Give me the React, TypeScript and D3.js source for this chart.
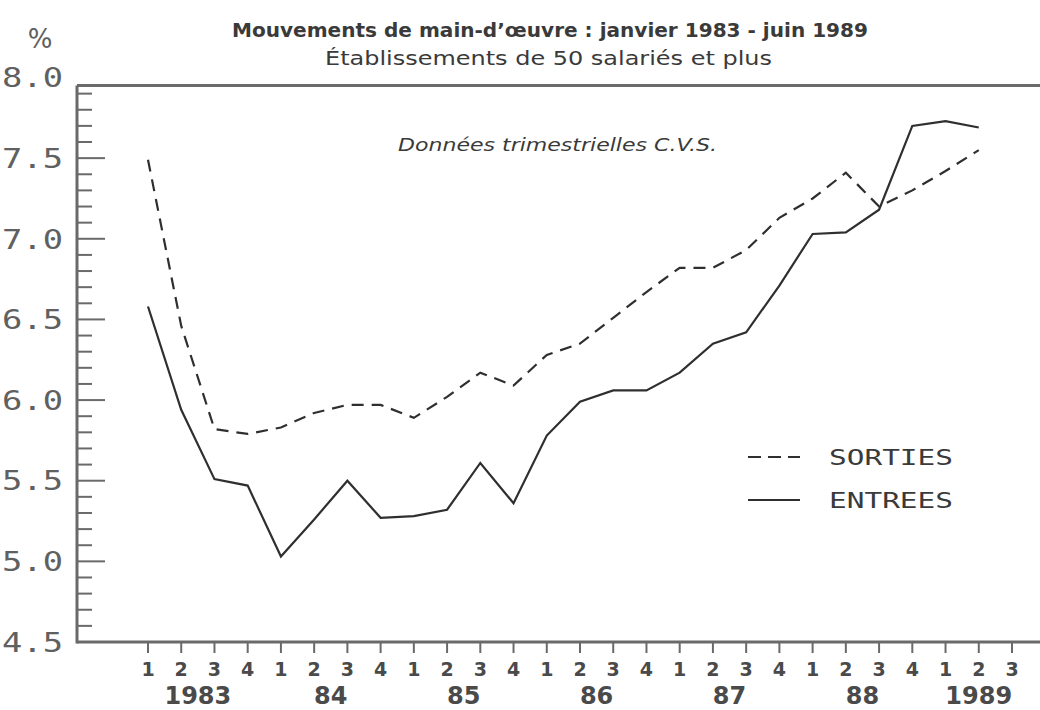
import * as d3 from 'd3'
import * as React from 'react'

// Quarter ticks along the bottom (1983 Q1 .. 1989 Q3)
const quarterLabels = [
  '1', '2', '3', '4',
  '1', '2', '3', '4',
  '1', '2', '3', '4',
  '1', '2', '3', '4',
  '1', '2', '3', '4',
  '1', '2', '3', '4',
  '1', '2', '3',
]
const yearLabels = ['1983', '84', '85', '86', '87', '88', '1989']

// Quarterly rates (%), 1983 Q1 .. 1989 Q2
const sorties = [
  7.49, 6.46, 5.82, 5.79,
  5.83, 5.92, 5.97, 5.97,
  5.89, 6.02, 6.17, 6.09,
  6.28, 6.35, 6.51, 6.67,
  6.82, 6.82, 6.93, 7.13,
  7.25, 7.41, 7.20, 7.30,
  7.42, 7.55,
]
const entrees = [
  6.58, 5.94, 5.51, 5.47,
  5.03, 5.26, 5.50, 5.27,
  5.28, 5.32, 5.61, 5.36,
  5.78, 5.99, 6.06, 6.06,
  6.17, 6.35, 6.42, 6.71,
  7.03, 7.04, 7.18, 7.70,
  7.73, 7.69,
]
const yTickLabels = ['4.5', '5.0', '5.5', '6.0', '6.5', '7.0', '7.5', '8.0']

const W = 1040
const H = 710
const axisColor = '#6a6a6a'
const inkColor = '#2f2f2f'
const labelColor = '#606060'
const matrixFont = '"DejaVu Sans Mono", monospace'
const sansFont = '"DejaVu Sans", Verdana, sans-serif'

export default function App() {
  const node = React.useRef<SVGSVGElement>(null)

  React.useEffect(() => {
    const svg = d3.select(node.current!)
    svg.selectAll('*').remove()

    const x = d3.scaleLinear().domain([0, quarterLabels.length - 1]).range([148, 1012])
    const y = d3.scaleLinear().domain([4.5, 8.0]).range([642, 77.5])
    const left = 77
    const top = y(8) + 8
    const bottom = y(4.5)

    svg.append('rect').attr('width', W).attr('height', H).attr('fill', '#fff')

    // Titles
    const addText = (tx: number, ty: number, str: string, size: number, len: number, extra: (s: any) => void) => {
      const t = svg.append('text')
        .attr('x', tx).attr('y', ty)
        .attr('font-family', sansFont).attr('font-size', size)
        .attr('fill', '#3a3a3a')
        .attr('textLength', len)
        .attr('lengthAdjust', 'spacingAndGlyphs')
        .text(str)
      extra(t)
    }
    addText(232, 37, 'Mouvements de main-d\u2019\u0153uvre : janvier 1983 - juin 1989', 19, 636,
      s => s.attr('font-weight', 'bold'))
    addText(325, 65, '\u00c9tablissements de 50 salari\u00e9s et plus', 19, 447, () => {})
    addText(398, 151, 'Donn\u00e9es trimestrielles C.V.S.', 18, 319, s => s.attr('font-style', 'italic'))

    svg.append('text')
      .attr('x', 40).attr('y', 48)
      .attr('text-anchor', 'middle')
      .attr('font-family', sansFont).attr('font-size', 26)
      .attr('fill', labelColor)
      .text('%')

    // Frame: top rule, left axis, bottom axis
    const frame = svg.append('g').attr('stroke', axisColor).attr('stroke-width', 3)
    frame.append('line').attr('x1', left).attr('x2', W).attr('y1', top).attr('y2', top)
    frame.append('line').attr('x1', left).attr('x2', left).attr('y1', top).attr('y2', bottom + 1.5)
    frame.append('line').attr('x1', left).attr('x2', W).attr('y1', bottom).attr('y2', bottom)

    // Y ticks: minor every 0.1, major every 0.5
    const yTicks = d3.range(45, 80).map(d => d / 10)
    svg.append('g')
      .selectAll('line')
      .data(yTicks)
      .enter()
      .append('line')
      .attr('x1', left)
      .attr('x2', (d: number) => Math.round(d * 10) % 5 === 0 ? left + 28 : left + 15)
      .attr('y1', (d: number) => y(d))
      .attr('y2', (d: number) => y(d))
      .attr('stroke', axisColor)
      .attr('stroke-width', 2)

    svg.append('g')
      .selectAll('text')
      .data(yTickLabels)
      .enter()
      .append('text')
      .attr('x', 2)
      .attr('y', (d: string) => y(+d))
      .attr('dy', '0.36em')
      .attr('font-family', matrixFont)
      .attr('font-size', 27)
      .attr('textLength', 61)
      .attr('lengthAdjust', 'spacingAndGlyphs')
      .attr('fill', labelColor)
      .text((d: string) => d)

    // X ticks & quarter labels
    const xg = svg.append('g')
    xg.selectAll('line')
      .data(quarterLabels)
      .enter()
      .append('line')
      .attr('x1', (_d: string, i: number) => x(i))
      .attr('x2', (_d: string, i: number) => x(i))
      .attr('y1', bottom)
      .attr('y2', bottom + 11)
      .attr('stroke', axisColor)
      .attr('stroke-width', 2)
    xg.selectAll('text.q')
      .data(quarterLabels)
      .enter()
      .append('text')
      .attr('class', 'q')
      .attr('x', (_d: string, i: number) => x(i))
      .attr('y', 676)
      .attr('text-anchor', 'middle')
      .attr('font-family', sansFont).attr('font-weight', 'bold').attr('font-size', 19)
      .attr('fill', '#4a4a4a')
      .text((d: string) => d)
    xg.selectAll('text.yr')
      .data(yearLabels)
      .enter()
      .append('text')
      .attr('class', 'yr')
      .attr('x', (_d: string, i: number) => {
        const first = i * 4
        const last = Math.min(first + 3, quarterLabels.length - 1)
        return x((first + last) / 2)
      })
      .attr('y', 704)
      .attr('text-anchor', 'middle')
      .attr('font-family', sansFont).attr('font-weight', 'bold').attr('font-size', 24)
      .attr('fill', '#4a4a4a')
      .text((d: string) => d)

    // Series
    const line = d3.line<number>()
      .x((_d, i) => x(i))
      .y(d => y(d))
      .curve(d3.curveLinear)

    svg.append('path')
      .datum(sorties)
      .attr('d', line)
      .attr('fill', 'none')
      .attr('stroke', inkColor)
      .attr('stroke-width', 2.2)
      .attr('stroke-dasharray', '12 8')

    svg.append('path')
      .datum(entrees)
      .attr('d', line)
      .attr('fill', 'none')
      .attr('stroke', inkColor)
      .attr('stroke-width', 2.2)

    // Legend
    const legend = svg.append('g')
    const legendItems = [
      { name: 'SORTIES', dash: '13 7', ly: 457 },
      { name: 'ENTREES', dash: null, ly: 500 },
    ]
    legendItems.forEach(item => {
      legend.append('line')
        .attr('x1', 748).attr('x2', 800)
        .attr('y1', item.ly).attr('y2', item.ly)
        .attr('stroke', inkColor)
        .attr('stroke-width', 2.2)
        .attr('stroke-dasharray', item.dash)
      legend.append('text')
        .attr('x', 829).attr('y', item.ly)
        .attr('dy', '0.36em')
        .attr('font-family', matrixFont)
        .attr('font-size', 22)
        .attr('textLength', 124)
        .attr('lengthAdjust', 'spacingAndGlyphs')
        .attr('fill', '#3a3a3a')
        .text(item.name)
    })
  }, [])

  return (
    <svg
      ref={node}
      width={W}
      height={H}
      style={{ position: 'absolute', left: 0, top: 0 }}
    />
  )
}
